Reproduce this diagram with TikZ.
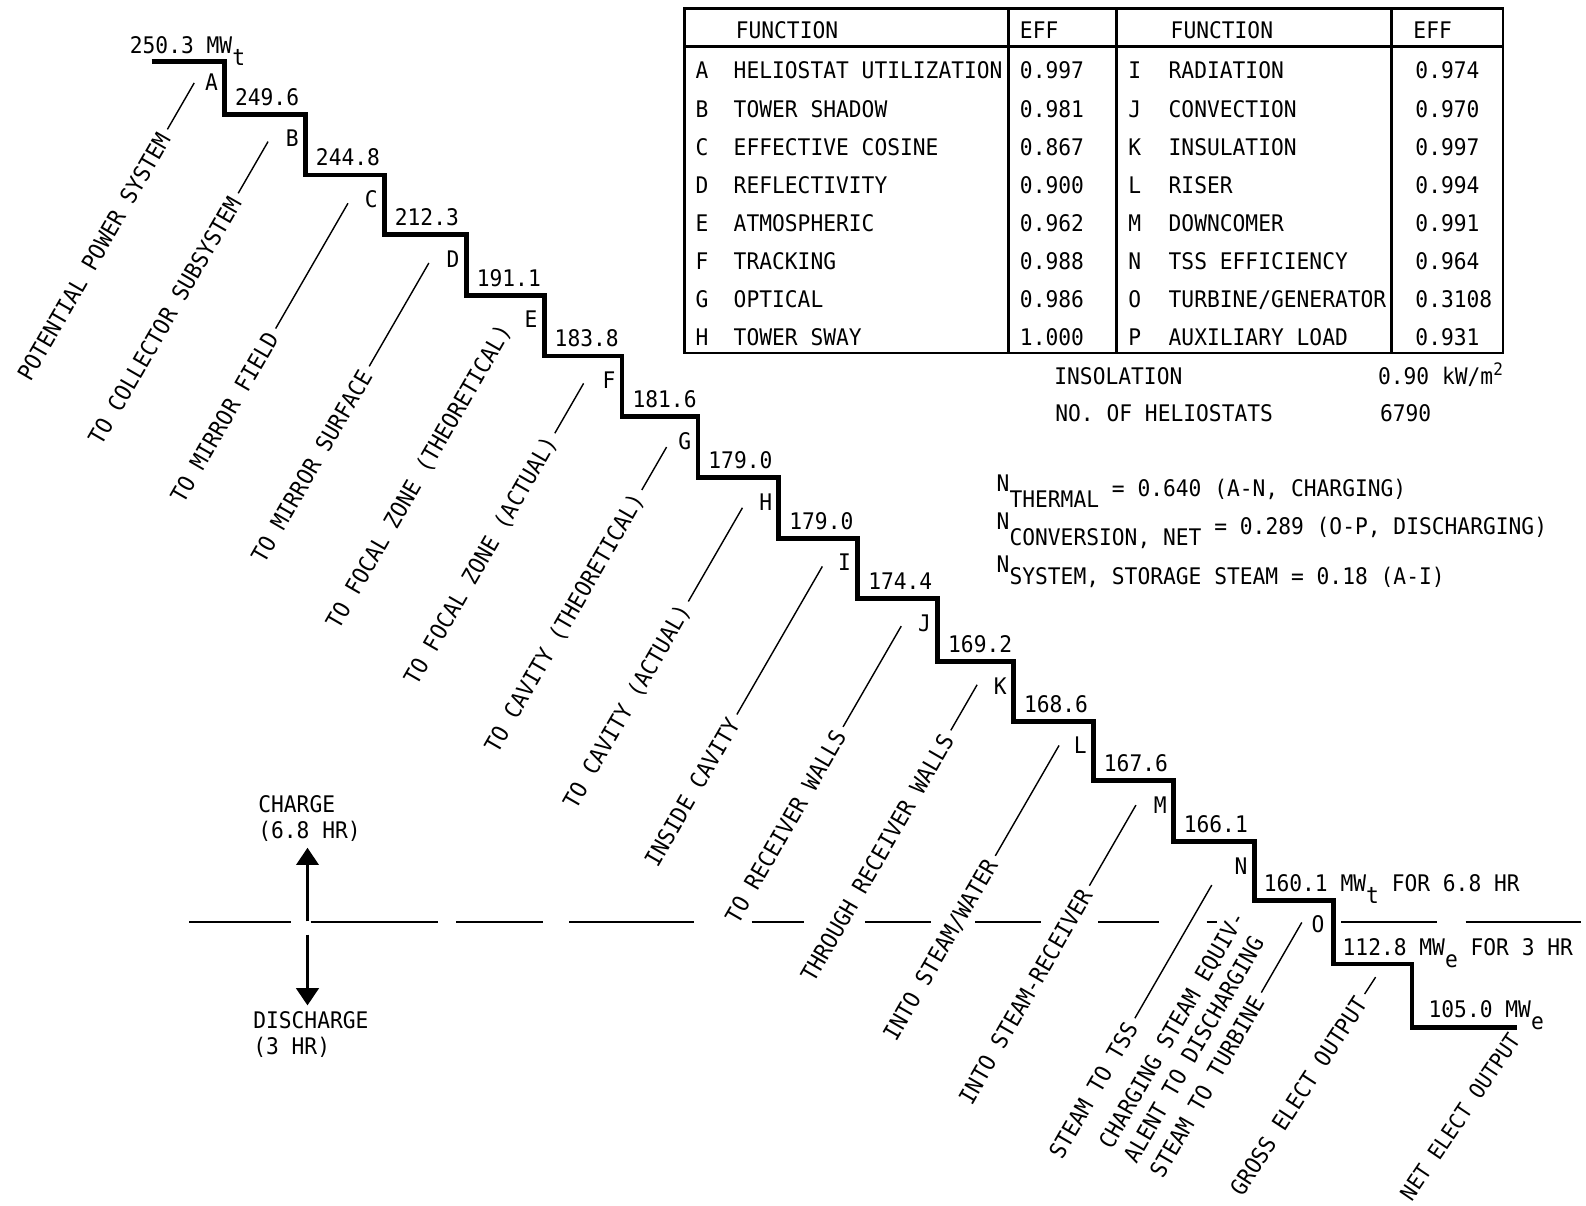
\documentclass[tikz,border=0pt]{standalone}
\usepackage{fontspec}
\setmainfont{DejaVu Sans Mono}[FakeStretch=0.93]
\usepackage{tikz}
\usetikzlibrary{arrows.meta,positioning,calc}

\begin{document}
\begin{tikzpicture}[x=0.5pt, y=-0.5pt,
    every node/.style={font=\fontsize{11.3}{14.2}\selectfont, inner sep=0pt},
    stair/.style={line width=2.4pt, line join=miter},
    leader/.style={line width=0.7pt},
    lbl/.style={rotate=#1, anchor=east, inner xsep=3pt, inner ysep=3pt},
    lbl/.default=60,
    val/.style={anchor=base west},
    tcell/.style={anchor=base west},
    tframe/.style={line width=1.4pt},
    dashln/.style={line width=1pt},
    bigarrow/.style={line width=1.6pt, -{Triangle[width=11pt,length=8.5pt]}}]
    \useasboundingbox (0,0) rectangle (1568,1192);

    % Efficiency table
    \draw[tframe] (677,8) rectangle (1486,349);
    \draw[tframe] (677,46) -- (1486,46);
    \foreach \x in {997,1104,1376}
        \draw[tframe] (\x,8) -- (\x,349);
    \node[tcell] (hfa) at (727,38) {FUNCTION};
    \node[tcell] (hea) at (1008,38) {EFF};
    \node[tcell] (hfb) at (1157,38) {FUNCTION};
    \node[tcell] (heb) at (1397,38) {EFF};
    \foreach \ltr/\fn/\ef [count=\i from 0] in {A/HELIOSTAT UTILIZATION/0.997, B/TOWER SHADOW/0.981,
        C/EFFECTIVE COSINE/0.867, D/REFLECTIVITY/0.900, E/ATMOSPHERIC/0.962, F/TRACKING/0.988,
        G/OPTICAL/0.986, H/TOWER SWAY/1.000} {
        \node[anchor=base] (tl\ltr) at (694,78+37.7*\i) {\ltr};
        \node[tcell] (tf\ltr) at (725,78+37.7*\i) {\fn};
        \node[tcell] (te\ltr) at (1008,78+37.7*\i) {\ef};
    }
    \foreach \ltr/\fn/\ef [count=\i from 0] in {I/RADIATION/0.974, J/CONVECTION/0.970,
        K/INSULATION/0.997, L/RISER/0.994, M/DOWNCOMER/0.991, N/TSS EFFICIENCY/0.964,
        O/{TURBINE/GENERATOR}/0.3108, P/AUXILIARY LOAD/0.931} {
        \node[anchor=base] (tl\ltr) at (1122,78+37.7*\i) {\ltr};
        \node[tcell] (tf\ltr) at (1155,78+37.7*\i) {\fn};
        \node[tcell] (te\ltr) at (1399,78+37.7*\i) {\ef};
    }
    \node[tcell] (insol) at (1042,380) {INSOLATION};
    \node[tcell] (insolv) at (1362,380) {0.90 kW/m\raisebox{4.5pt}{\fontsize{8.5}{8.5}\selectfont 2}};
    \node[tcell] (nhel) at (1043,417) {NO. OF HELIOSTATS};
    \node[tcell] (nhelv) at (1364,417) {6790};

    % Overall efficiencies
    \node[val] (nth) at (985,486) {N\raisebox{-8pt}{THERMAL}\raisebox{-2.5pt}{~= 0.640 (A-N, CHARGING)}};
    \node[val] (ncv) at (985,523) {N\raisebox{-8pt}{CONVERSION, NET}\raisebox{-2.5pt}{~= 0.289 (O-P, DISCHARGING)}};
    \node[val] (nsy) at (985,566) {N\raisebox{-6pt}{SYSTEM, STORAGE STEAM = 0.18 (A-I)}};

    % Power staircase
    \draw[stair] (150,61) -| (222,113) -| (302,173) -| (380,232) -| (461,292)
        -| (538,352) -| (615,412) -| (690,472) -| (770,532) -| (848,592)
        -| (927,654) -| (1002,713) -| (1081,772) -| (1160,832) -| (1240,890)
        -| (1318,953) -| (1396,1016) -- (1500,1016);

    % Step letters and power levels
    \node[val] (v0) at (128,53) {250.3 MW\raisebox{-6pt}{t}};
    \foreach \s/\x/\ya/\yb/\v in {A/222/57/113/249.6, B/302/113/173/244.8, C/380/173/232/212.3,
        D/461/232/292/191.1, E/538/292/352/183.8, F/615/352/412/181.6, G/690/412/472/179.0,
        H/770/472/532/179.0, I/848/532/592/174.4, J/927/592/654/169.2, K/1002/654/713/168.6,
        L/1081/713/772/167.6, M/1160/772/832/166.1} {
        \node (s\s) at (\x-13,\ya+24) {\s};
        \node[val] (v\s) at (\x+10,\yb-9) {\v};
    }
    \node (sN) at (1227,856) {N};
    \node (sO) at (1303,914) {O};
    \node[val] (vN) at (1249,881) {160.1 MW\raisebox{-6pt}{t} FOR 6.8 HR};
    \node[val] (vO) at (1327,945) {112.8 MW\raisebox{-6pt}{e} FOR 3 HR};
    \node[val] (vP) at (1412,1006) {105.0 MW\raisebox{-6pt}{e}};

    % Flow labels with leaders
    \foreach \s/\x/\y/\len/\txt in {A/192/82/53/POTENTIAL POWER SYSTEM,
        B/265/140/59/TO COLLECTOR SUBSYSTEM, C/344/201/143/TO MIRROR FIELD,
        D/424/260/118/TO MIRROR SURFACE, F/577/379/57/TO FOCAL ZONE (ACTUAL),
        G/659/442/49/TO CAVITY (THEORETICAL), H/734/502/107/TO CAVITY (ACTUAL),
        I/813/560/169/INSIDE CAVITY, J/891/619/115/TO RECEIVER WALLS,
        K/966/677/52/THROUGH RECEIVER WALLS, L/1047/737/126/{INTO STEAM/WATER},
        M/1123/796/92/INTO STEAM-RECEIVER, N/1198/875/152/STEAM TO TSS} {
        \coordinate (e\s) at (\x,\y);
        \node[lbl] (t\s) at ($(e\s)+(120:\len)$) {\txt};
        \draw[leader] (t\s.east) -- (e\s);
    }
    \node[lbl] (tE) at (503,318) {TO FOCAL ZONE (THEORETICAL)};
    \coordinate (eO) at (1287,912);
    \node[lbl] (tO) at ($(eO)+(120:80)$) {STEAM TO TURBINE};
    \node[lbl, anchor=south west, align=left] (tOa) at (tO.north west) {CHARGING STEAM EQUIV-\\ALENT TO DISCHARGING};
    \draw[leader] (tO.east) -- (eO);
    \coordinate (eP) at (1360,966);
    \node[lbl=57] (tP) at ($(eP)+(123:20)$) {GROSS ELECT OUTPUT};
    \draw[leader] (tP.east) -- (eP);
    \node[lbl=56, inner xsep=2pt, font=\fontsize{10.8}{13}\selectfont] (tQ) at (1500,1020) {NET ELECT OUTPUT};

    % Charge / discharge split
    \foreach \a/\b in {187/288, 307/433, 451/537, 563/686, 743/795, 855/920, 964/1029,
        1086/1146, 1193/1203, 1326/1421, 1449/1563}
        \draw[dashln] (\a,912) -- (\b,912);
    \node[anchor=north west, align=left, inner ysep=3pt, font=\fontsize{11.3}{12.8}\selectfont] (chg) at (255,780) {CHARGE\\(6.8 HR)};
    \node[anchor=north west, align=left, inner ysep=3pt, font=\fontsize{11.3}{12.8}\selectfont] (dis) at (250,994) {DISCHARGE\\(3 HR)};
    \coordinate (upBase) at (304,911);
    \coordinate (dnBase) at (304,924);
    \draw[bigarrow] (upBase) -- (upBase |- chg.south);
    \draw[bigarrow] (dnBase) -- (dnBase |- dis.north);
\end{tikzpicture}
\end{document}
